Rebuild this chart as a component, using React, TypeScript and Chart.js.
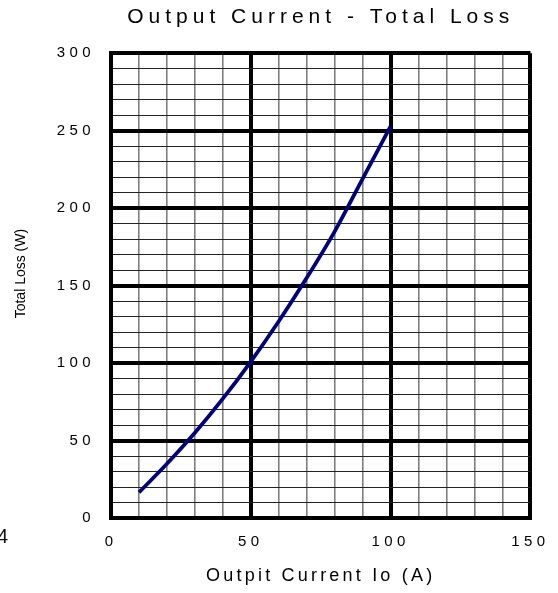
import React, { useEffect, useRef } from "react";
import { Chart, registerables } from "chart.js";

Chart.register(...registerables);

const currentA: number[] = [10, 20, 30, 40, 50, 60, 70, 80, 90, 100];
const totalLossW: number[] = [16.5, 35, 55, 77, 101, 127, 155, 185, 219, 253];
const xTickLabels: number[] = [0, 50, 100, 150];
const yTickLabels: number[] = [0, 50, 100, 150, 200, 250, 300];

const chartTitle = "Output Current - Total Loss";
const xTitle = "Outpit Current Io (A)";
const yTitle = "Total Loss (W)";
const strayText = "4";

function patch(obj: any, method: string, spacing: string, dy = 0) {
  if (!obj || obj["__p_" + method]) return;
  const orig = obj[method];
  obj[method] = function (...args: any[]) {
    const ctx = this.ctx as CanvasRenderingContext2D;
    ctx.save();
    (ctx as any).letterSpacing = spacing;
    if (dy) ctx.translate(0, dy);
    const r = orig.apply(this, args);
    ctx.restore();
    return r;
  };
  obj["__p_" + method] = true;
}

const spacingPlugin = {
  id: "spacing",
  beforeDraw(chart: any) {
    patch(chart.scales.x, "drawLabels", "4.4px");
    patch(chart.scales.y, "drawLabels", "4.4px");
    patch(chart.scales.x, "drawTitle", "3.2px");
    patch(chart.scales.y, "drawTitle", "0px", -12);
    patch(chart.titleBlock, "draw", "5px");
  },
};

export default function App() {
  const ref = useRef<HTMLCanvasElement | null>(null);
  useEffect(() => {
    if (!ref.current) return;
    Chart.defaults.font.family = "'Liberation Sans', Arial, sans-serif";
    Chart.defaults.color = "#000";
    const isMajor = (v: number) => v % 50 === 0;
    const chart = new Chart(ref.current, {
      type: "line",
      data: {
        datasets: [
          {
            data: currentA.map((x, i) => ({ x, y: totalLossW[i] })),
            borderColor: "#000080",
            borderWidth: 3.8,
            pointRadius: 0,
            cubicInterpolationMode: "monotone",
            fill: false,
          },
        ],
      },
      options: {
        animation: false,
        responsive: true,
        maintainAspectRatio: false,
        layout: { padding: { left: 0, right: 22, top: 0, bottom: 0 } },
        plugins: {
          legend: { display: false },
          tooltip: { enabled: false },
          title: {
            display: true,
            text: chartTitle,
            fullSize: false,
            color: "#000",
            font: { size: 21, weight: "normal" },
            padding: { top: 5, bottom: 23 },
          },
        },
        scales: {
          x: {
            type: "linear",
            min: 0,
            max: 150,
            afterFit: (s: any) => {
              s.height = 75;
            },
            ticks: {
              stepSize: 10,
              autoSkip: false,
              maxRotation: 0,
              padding: 15,
              color: "#000",
              font: { size: 15 },
              callback: (v: any) => (xTickLabels.includes(Number(v)) ? String(v) : ""),
            },
            grid: {
              drawTicks: false,
              color: (c: any) => (isMajor(c.tick.value) ? "#000" : "#808080"),
              lineWidth: (c: any) => (isMajor(c.tick.value) ? 4 : 1.6),
            },
            border: { color: "#000", width: 4 },
            title: {
              display: true,
              text: xTitle,
              color: "#000",
              font: { size: 18 },
              padding: { top: 0, bottom: 6 },
            },
          },
          y: {
            min: 0,
            max: 300,
            afterFit: (s: any) => {
              s.width = 111;
            },
            ticks: {
              stepSize: 10,
              autoSkip: false,
              padding: 16,
              color: "#000",
              font: { size: 15 },
              callback: (v: any) => (yTickLabels.includes(Number(v)) ? String(v) : ""),
            },
            grid: {
              drawTicks: false,
              color: (c: any) => (isMajor(c.tick.value) ? "#000" : "#222"),
              lineWidth: (c: any) => (isMajor(c.tick.value) ? 4 : 1),
            },
            border: { color: "#000", width: 4 },
            title: {
              display: true,
              text: yTitle,
              color: "#000",
              font: { size: 14 },
              padding: { top: 13, bottom: 0 },
            },
          },
        },
      },
      plugins: [spacingPlugin],
    } as any);
    return () => chart.destroy();
  }, []);

  return (
    <div style={{ position: "fixed", left: 0, top: 0, width: 558, height: 593, background: "#fff" }}>
      <canvas ref={ref} />
      <span
        style={{
          position: "absolute",
          left: -3,
          top: 526,
          fontFamily: "'Liberation Sans', Arial, sans-serif",
          fontSize: 20,
          lineHeight: "20px",
          color: "#111",
        }}
      >
        {strayText}
      </span>
    </div>
  );
}
